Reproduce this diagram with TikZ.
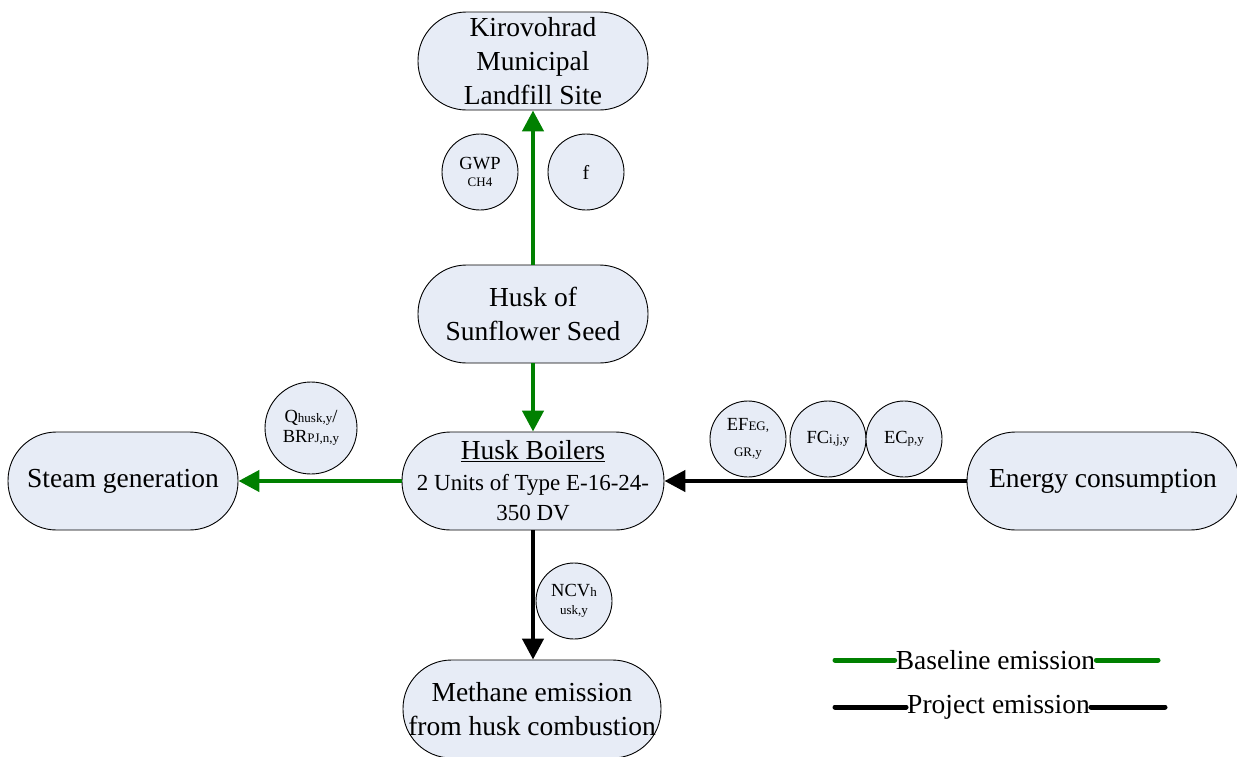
\documentclass[tikz,border=0pt]{standalone}
\usepackage{fontspec}
\setmainfont{Liberation Serif}
\usetikzlibrary{arrows.meta}
\definecolor{boxfill}{RGB}{231,236,246}
\definecolor{basegreen}{RGB}{0,128,0}
\newcommand{\smtxt}[1]{{\fontsize{13}{15}\selectfont #1}}
\begin{document}
\begin{tikzpicture}[x=1pt,y=-1pt,
  stadium/.style={draw=black, line width=0.9pt, fill=boxfill, rounded corners=48.5pt,
    minimum height=98pt, inner sep=0pt, align=center,
    font=\fontsize{27.5}{34}\selectfont},
  param/.style={circle, draw=black, line width=0.9pt, fill=boxfill, inner sep=0pt,
    minimum size=76pt, align=center, font=\fontsize{18.5}{20}\selectfont},
  flow/.style={line width=4.5pt, -{Triangle[length=21pt,width=21pt]}},
  baseflow/.style={flow, draw=basegreen},
  projflow/.style={flow, draw=black},
  legendline/.style={line width=5pt, line cap=round},
  legendtext/.style={inner sep=1pt, font=\fontsize{27.5}{34}\selectfont}
]
\useasboundingbox (0,0) rectangle (1237,756);

% process boxes
\node[stadium, minimum width=230pt] (landfill) at (533,61)
  {Kirovohrad\\Municipal\\Landfill Site};
\node[stadium, minimum width=230pt] (husk) at (533,314)
  {Husk of\\Sunflower Seed};
\node[stadium, minimum width=262pt, font=\fontsize{23}{30.5}\selectfont] (boilers) at (533,481)
  {{\fontsize{27.5}{30.5}\selectfont\underline{Husk Boilers}}\\2 Units of Type E-16-24-\\350 DV};
\node[stadium, minimum width=230pt] (steam) at (123,481) {Steam generation};
\node[stadium, minimum width=272pt] (energy) at (1103,481) {Energy consumption};
\node[stadium, minimum width=258pt] (methane) at (532,709)
  {Methane emission\\from husk combustion};

% parameters
\node[param] (gwp) at (480,172) {GWP\\[-3pt]\smtxt{CH4}};
\node[param, font=\fontsize{20}{22}\selectfont] (ff) at (586,172) {f};
\node[param, minimum size=92pt] (qhusk) at (311,428)
  {Q\smtxt{husk,y}/\\BR\smtxt{PJ,n,y}};
\node[param] (efeg) at (748,439) {EF\smtxt{EG,}\\[6pt]\smtxt{GR,y}};
\node[param] (fc) at (828,439) {FC\smtxt{i,j,y}};
\node[param] (ec) at (904,439) {EC\smtxt{p,y}};
\node[param] (ncv) at (574,601) {NCV\smtxt{h}\\[-2pt]\smtxt{usk,y}};

% flows
\draw[baseflow] (husk.north) -- (landfill.south);
\draw[baseflow] (husk.south) -- (boilers.north);
\draw[baseflow] (boilers.west) -- (steam.east);
\draw[projflow] (energy.west) -- (boilers.east);
\draw[projflow] (boilers.south) -- (boilers.south |- methane.north);

% legend
\node[legendtext] (lgbase) at (995.5,660) {Baseline emission};
\node[legendtext] (lgproj) at (998.5,707) {Project emission};
\coordinate (lgbaseL) at (835,660);
\coordinate (lgbaseR) at (1158,660);
\coordinate (lgprojL) at (835,707);
\coordinate (lgprojR) at (1165,707);
\draw[legendline, basegreen] (lgbaseL) -- (lgbase.west);
\draw[legendline, basegreen] (lgbase.east) -- (lgbaseR);
\draw[legendline, black] (lgprojL) -- (lgproj.west);
\draw[legendline, black] (lgproj.east) -- (lgprojR);
\end{tikzpicture}
\end{document}
